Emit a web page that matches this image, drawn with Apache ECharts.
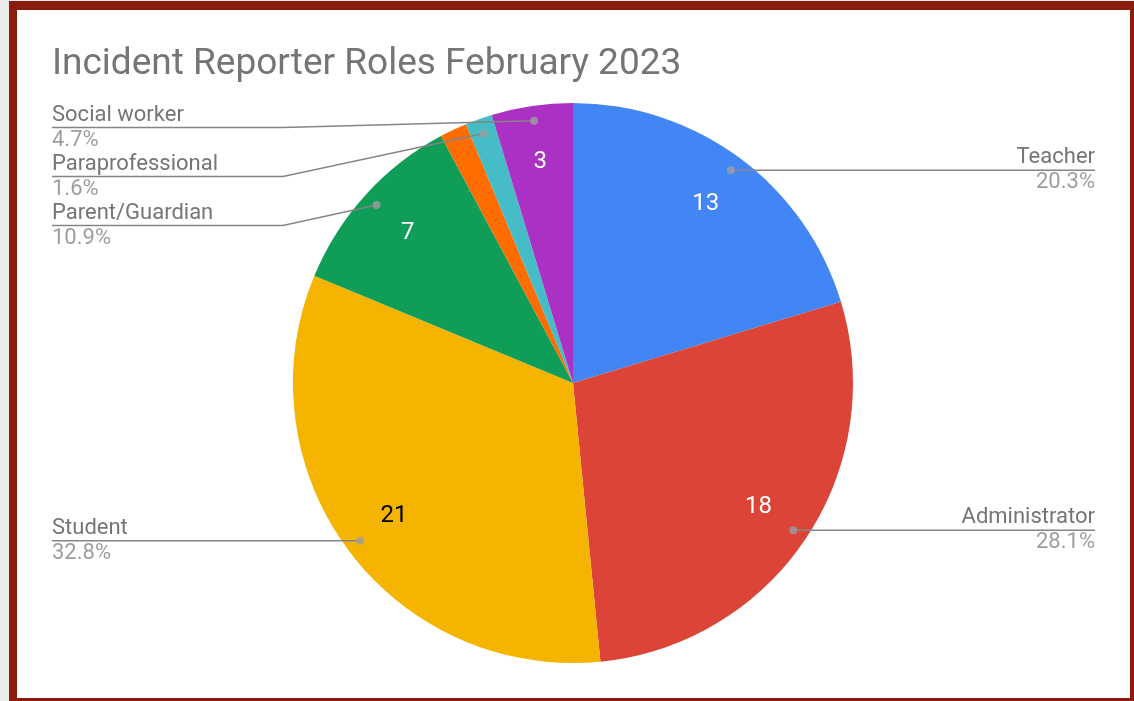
<!DOCTYPE html>
<html lang="en">
<head>
  <meta charset="utf-8">
  <title>Incident Reporter Roles February 2023</title>
  <script src="https://cdn.jsdelivr.net/npm/echarts@6/dist/echarts.min.js"></script>
  <style>
    html, body { margin: 0; padding: 0; background: #ececec; overflow: hidden; }
    #frame { position: absolute; left: 9px; top: 1px; width: 1129px; height: 705px;
             box-sizing: border-box; border: 8px solid #8b1c0d; border-top-width: 9px; background: #fff; }
    #chart1 { position: absolute; left: 0; top: 0; width: 1134px; height: 701px; }
  </style>
</head>
<body>
<div id="frame"></div>
<div id="chart1"></div>

<script>
  // data
  var roles = ['Teacher', 'Administrator', 'Student', 'Parent/Guardian', '', 'Paraprofessional', 'Social worker'];
  var counts = [13, 18, 21, 7, 1, 1, 3];
  var colors = ['#4285f4', '#db4437', '#f4b400', '#0f9d58', '#ff6d00', '#46bdc6', '#ab30c4'];
  var valueColors = ['#ffffff', '#ffffff', '#000000', '#ffffff', '#ffffff', '#ffffff', '#ffffff'];
  var showValue = [true, true, true, true, false, false, true];
  var showName = [true, true, true, true, false, true, true];

  var cx = 573, cy = 383, R = 280, dotR = 265;
  var leftEdge = 52, rightEdge = 1095, elbowInset = 231;

  var total = 0;
  counts.forEach(function (v) { total += v; });

  // slice middles, for the dots and for which side a label goes
  var mids = [];
  var acc = 0;
  counts.forEach(function (v) { mids.push(acc + v / 2); acc += v; });

  function dotPoint(i) {
    var a = mids[i] / total * Math.PI * 2;
    return [cx + dotR * Math.sin(a), cy - dotR * Math.cos(a)];
  }

  var chart1 = echarts.init(document.getElementById('chart1'));

  var pieData = roles.map(function (n, i) {
    return { name: n, value: counts[i], itemStyle: { color: colors[i] } };
  });

  var valueData = roles.map(function (n, i) {
    return {
      name: n, value: counts[i],
      label: { show: showValue[i], color: valueColors[i] }
    };
  });

  var nameData = roles.map(function (n, i) {
    var right = mids[i] < total / 2;
    return {
      name: n, value: counts[i],
      label: { show: showName[i], edgeDistance: right ? 1134 - rightEdge : leftEdge },
      labelLine: { show: showName[i] }
    };
  });

  var dotData = [];
  roles.forEach(function (n, i) {
    if (showName[i]) dotData.push([dotR / R, mids[i]]);
  });

  var option = {
    animation: false,
    title: {
      text: 'Incident Reporter Roles February 2023',
      left: 47,
      top: 41,
      textStyle: { fontFamily: 'Roboto', fontSize: 37, fontWeight: 'normal', color: '#757575' }
    },
    polar: { center: [cx, cy], radius: R },
    angleAxis: { type: 'value', min: 0, max: total, startAngle: 90, clockwise: true, show: false },
    radiusAxis: { type: 'value', min: 0, max: 1, show: false },
    series: [
      {
        type: 'pie',
        z: 1,
        center: [cx, cy],
        radius: R,
        startAngle: 90,
        silent: true,
        label: { show: false },
        labelLine: { show: false },
        data: pieData
      },
      {
        // numbers inside slices
        type: 'pie',
        z: 3,
        center: [cx, cy],
        radius: [160, R],
        startAngle: 90,
        silent: true,
        itemStyle: { color: 'rgba(0,0,0,0)' },
        label: {
          position: 'inside',
          formatter: '{c}',
          fontFamily: 'Roboto',
          fontSize: 24
        },
        labelLine: { show: false },
        data: valueData
      },
      {
        // names and percentages outside; box limited to the pie height
        type: 'pie',
        z: 4,
        left: 0,
        right: 0,
        top: cy - R,
        bottom: 701 - cy - R,
        center: [cx, R],
        radius: dotR,
        startAngle: 90,
        silent: true,
        itemStyle: { color: 'rgba(0,0,0,0)' },
        label: {
          position: 'outside',
          alignTo: 'edge',
          formatter: function (p) {
            return '{n|' + p.name + '}\n{p|' + p.percent.toFixed(1) + '%}';
          },
          rich: {
            n: { fontFamily: 'Roboto', fontSize: 22, lineHeight: 25, color: '#757575' },
            p: { fontFamily: 'Roboto', fontSize: 22, lineHeight: 25, color: '#9e9e9e' }
          }
        },
        labelLine: {
          length: 0.01,
          length2: 20,
          minTurnAngle: 0,
          lineStyle: { color: '#858585', width: 1.5 }
        },
        labelLayout: function (p) {
          var pts = p.labelLinePoints;
          if (!pts || !pts.length) return {};
          var r = p.labelRect;
          var y = pts[pts.length - 1][1];
          var start = dotPoint(p.dataIndex);
          var left = r.x + r.width / 2 < cx;
          var endX = left ? r.x : r.x + r.width;
          var elbowX = left ? Math.min(start[0], leftEdge + elbowInset)
                            : Math.max(start[0], rightEdge - elbowInset);
          return { labelLinePoints: [start, [elbowX, y], [endX, y]] };
        },
        data: nameData
      },
      {
        type: 'scatter',
        coordinateSystem: 'polar',
        symbolSize: 8,
        z: 6,
        silent: true,
        itemStyle: { color: '#9e9e9e' },
        data: dotData
      }
    ]
  };
  chart1.setOption(option);
</script>
</body>
</html>
